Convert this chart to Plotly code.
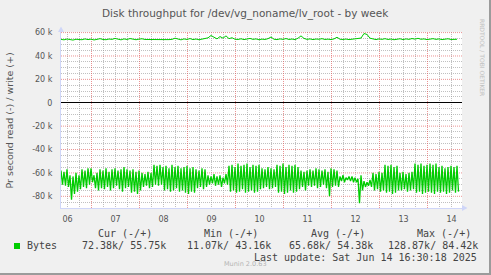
import plotly.graph_objects as go

# ---------------- data ----------------
start_day = 6.364583   # Jun 6 ~08:45
end_day = 14.71875     # Jun 14 ~17:15
step_days = 1.5 / 24   # sample spacing (1.5 h)

# read (negative side), upper and lower swing of each sample pair, in k
read_hi = [-58, -59, -57, -62, -63, -60, -62, -57, -58, -56, -56, -62, -60,
           -57, -58, -56, -59, -57, -56, -58, -57, -55, -57,
           -58, -57, -59, -58,
           -60, -61, -59, -60,
           -53, -54, -53,
           -55, -54, -56, -53, -55, -54, -56,
           -55, -54, -56, -55,
           -57, -58, -56, -57,
           -62, -63, -61, -63, -62, -64, -61,
           -54, -53, -55, -52, -54, -53, -52, -55, -53, -54, -53,
           -56, -57, -55, -56, -57,
           -53, -54, -52, -55, -53, -54, -53, -55,
           -58, -59, -58,
           -57, -58, -56, -57, -58, -57, -59, -56, -57, -58,
           -63, -62, -64, -63, -63, -64,
           -65, -62,
           -67, -68, -66,
           -60, -61, -59, -60,
           -53, -54, -53, -55, -54,
           -60, -59, -61, -60, -59,
           -52, -53, -52, -54, -53, -52, -53, -52,
           -55, -54, -56, -55, -54, -55, -54]
read_lo = [-70, -71, -72, -83, -78, -76, -74, -72, -73, -70, -68, -73, -75,
           -73, -74, -72, -75, -73, -71, -74, -76, -73, -72,
           -77, -76, -78, -75,
           -72, -71, -73, -72,
           -70, -71, -70,
           -75, -74, -76, -75, -73, -76, -75,
           -77, -78, -76, -77,
           -73, -72, -74, -72,
           -70, -69, -71, -70, -72, -69, -70,
           -76, -75, -77, -76, -74, -77, -76, -75, -77, -76, -74,
           -73, -72, -74, -73, -72,
           -77, -76, -78, -77, -75, -77, -76, -74,
           -72, -75, -71,
           -72, -71, -73, -72, -70, -73, -80, -72, -71, -72,
           -67, -68, -66, -67, -68, -68,
           -86, -75,
           -72, -71, -72,
           -75, -74, -76, -75,
           -77, -76, -78, -77, -75,
           -75, -74, -76, -75, -74,
           -77, -76, -78, -77, -76, -77, -78, -76,
           -77, -76, -78, -77, -75, -77, -76]

# write (positive side), in k
write_vals = [54.2, 53.8, 54.5, 54.0, 53.6, 54.3, 54.1, 53.9, 54.6, 54.0, 54.4, 53.7, 54.2,
              54.8, 54.1, 53.9, 54.5, 54.2, 55.0, 54.3, 53.8, 54.6, 54.1, 54.9, 54.2, 53.9,
              54.4, 54.7, 54.1,
              54.0, 54.0, 54.1, 54.0, 54.0, 54.1, 54.0, 54.0, 54.2,
              55.2,
              54.3, 53.8, 54.6, 54.1, 54.9, 54.0, 54.5, 53.9, 54.4, 54.8,
              55.5, 57.5, 55.8, 54.6, 56.6, 55.2, 57.2, 54.8, 55.6, 54.3,
              54.1, 54.7, 54.0, 54.5, 55.0, 54.2, 54.6, 53.9, 54.4, 54.1, 54.8,
              56.2,
              54.3, 54.0, 54.6, 54.2, 54.9, 54.1, 54.5, 54.0, 55.2,
              57.2, 55.0,
              54.2, 54.6, 54.0, 54.5, 54.3, 54.8, 54.1, 54.4, 54.0, 54.6,
              56.0,
              54.3, 54.1, 54.5, 54.0, 54.4, 54.2, 54.6, 55.3,
              59.2, 58.4, 55.2,
              54.4, 54.0, 54.6, 54.2, 54.8, 54.1, 54.5, 53.9, 54.3, 54.7, 54.0, 54.6, 54.2,
              54.9, 54.4, 55.1, 54.3, 54.6, 54.0, 54.5, 54.8, 54.2, 54.6, 54.0, 54.4, 54.7,
              54.1, 54.5, 54.3]

day_nums = [6, 7, 8, 9, 10, 11, 12, 13, 14]
day_labels = ["06", "07", "08", "09", "10", "11", "12", "13", "14"]
y_tick_k = [-80, -60, -40, -20, 0, 20, 40, 60]
y_tick_labels = ["-80 k", "-60 k", "-40 k", "-20 k", "0", "20 k", "40 k", "60 k"]

legend_headers = ["Cur (-/+)", "Min (-/+)", "Avg (-/+)", "Max (-/+)"]
legend_values = ["72.38k/ 55.75k", "11.07k/ 43.16k", "65.68k/ 54.38k", "128.87k/ 84.42k"]
series_name = "Bytes"
title_text = "Disk throughput for /dev/vg_noname/lv_root - by week"
y_title = "Pr second read (-) / write (+)"
last_update = "Last update: Sat Jun 14 16:30:18 2025"

# ---------------- build ----------------
W, H = 491, 275
L, R, T, B = 61, 462, 32, 208

def px(x):
    return (x - L) / (R - L)

def py(y):
    return (B - y) / (B - T)

X_RANGE = [start_day, end_day]
Y_RANGE = [-90000, 60500]

rx, ry = [], []
for i, (h, l) in enumerate(zip(read_hi, read_lo)):
    t = start_day + i * step_days
    rx += [t, t + step_days / 2]
    ry += [h * 1000, l * 1000]

wx = [start_day + i * step_days for i in range(len(write_vals))]
wy = [v * 1000 for v in write_vals]

# grid positions: major at midnight / every 20k, minor every 6 h / 5k (not on majors)
x_major = [d for d in day_nums if start_day < d < end_day]
x_minor = [d + q for d in day_nums for q in (0.25, 0.5, 0.75)]
x_label_pos = [d + 0.5 for d in day_nums]
y_major = [v * 1000 for v in y_tick_k]
y_minor = [(k + q) * 1000 for k in [-100] + y_tick_k for q in (5, 10, 15)]

# major grid as one path (drawn first, so it lies under the data)
gx, gy = [], []
for d in x_major:
    gx += [d, d, None]
    gy += [Y_RANGE[0], Y_RANGE[1], None]
for v in y_major:
    if v != 0:
        gx += [X_RANGE[0], X_RANGE[1], None]
        gy += [v, v, None]

GREEN = "#00CC00"
FONT = "DejaVu Sans"
MONO = "DejaVu Sans Mono"
TXT = "#555555"
MAJ = "rgba(225,90,90,0.65)"
MIN = "rgba(150,150,150,0.6)"
AXC = "#CFD6F8"
DASH = "1px,1px"

fig = go.Figure()
fig.add_trace(go.Scatter(x=gx, y=gy, mode="lines", line=dict(color=MAJ, width=1, dash=DASH),
                         hoverinfo="skip", showlegend=False, connectgaps=False))
fig.add_trace(go.Scatter(x=rx, y=ry, mode="lines", line=dict(color=GREEN, width=1.3),
                         hoverinfo="skip", showlegend=False))
fig.add_trace(go.Scatter(x=wx, y=wy, mode="lines", line=dict(color=GREEN, width=1),
                         hoverinfo="skip", showlegend=False))
# invisible anchors so the overlay (label / grid) axes are drawn
for xa, ya in (("x2", "y"), ("x", "y2")):
    fig.add_trace(go.Scatter(x=[start_day], y=[0], mode="markers", marker=dict(opacity=0),
                             xaxis=xa, yaxis=ya, hoverinfo="skip", showlegend=False))

noax = dict(showline=False, zeroline=False, ticks="", showticklabels=False)
fig.update_layout(
    width=W, height=H, autosize=False,
    margin=dict(l=L, r=W - R, t=T, b=H - B, pad=0),
    paper_bgcolor="#F0F0F0", plot_bgcolor="#FFFFFF",
    showlegend=False,
    # main x: minor 6-hour grid
    xaxis=dict(range=X_RANGE, tickmode="array", tickvals=x_minor,
               showticklabels=False, ticks="", showgrid=True, gridcolor=MIN, gridwidth=1,
               griddash=DASH, zeroline=False, showline=True, linecolor=AXC, linewidth=1),
    # day labels at noon
    xaxis2=dict(range=X_RANGE, overlaying="x", anchor="y", side="bottom",
                tickmode="array", tickvals=x_label_pos, ticktext=day_labels,
                showgrid=False, zeroline=False, showline=False, ticks="",
                tickfont=dict(family=FONT, size=8, color=TXT), ticklabelstandoff=5),
    # main y: labels + zero line
    yaxis=dict(range=Y_RANGE, tickmode="array", tickvals=y_major,
               ticktext=y_tick_labels, ticks="", showgrid=False,
               zeroline=True, zerolinecolor="#000000", zerolinewidth=1.2,
               showline=True, linecolor=AXC, linewidth=1,
               tickfont=dict(family=FONT, size=8, color=TXT), ticklabelstandoff=6),
    # minor 5k grid
    yaxis2=dict(range=Y_RANGE, overlaying="y", anchor="x", side="left",
                tickmode="array", tickvals=y_minor, showgrid=True, gridcolor=MIN,
                gridwidth=1, griddash=DASH, **noax),
)

ann = []
def A(text, x, y, xanchor="left", size=10, family=MONO, color="#444444", angle=0):
    ann.append(dict(text=text, x=px(x), y=py(y), xref="paper", yref="paper",
                    xanchor=xanchor, yanchor="middle", showarrow=False, textangle=angle,
                    borderpad=0, borderwidth=0,
                    font=dict(family=family, size=size, color=color)))

A("Munin 2.0.63", 245, 264, "center", 6.5, FONT, "#B4B4B4")
A(title_text, 245.5, 13, "center", 10.5, FONT, TXT)
A(y_title, 9.5, 121, "center", 9.5, FONT, TXT, -90)
A("RRDTOOL / TOBI OETIKER", 483, 57, "center", 6, FONT, "#C0C0C0", 90)
for txt, x in zip(legend_headers, [97.5, 204, 310.5, 417]):
    A(txt, x, 233.3)
A(series_name, 26.7, 245.7)
for txt, x in zip(legend_values, [82, 186.7, 289, 387.7]):
    A(txt, x, 245.7)
A(last_update, 477, 257.3, "right")
fig.update_layout(annotations=ann)

def tri(pts, color):
    path = "M " + " L ".join(f"{px(a)},{py(b)}" for a, b in pts) + " Z"
    return dict(type="path", path=path, xref="paper", yref="paper",
                fillcolor=color, line=dict(width=0), layer="above")

shapes = [
    dict(type="rect", xref="paper", yref="paper", x0=px(14), x1=px(20), y0=py(249), y1=py(243),
         fillcolor=GREEN, line=dict(width=0)),
    tri([(58, 32), (64, 32), (61, 26.5)], AXC),
    tri([(462, 205), (462, 211), (467.5, 208)], AXC),
    dict(type="line", xref="paper", yref="paper", x0=px(0), x1=px(491), y0=py(274), y1=py(274),
         line=dict(color="#9B9B9B", width=2)),
    dict(type="line", xref="paper", yref="paper", x0=px(490), x1=px(490), y0=py(0), y1=py(275),
         line=dict(color="#9B9B9B", width=2)),
]
fig.update_layout(shapes=shapes)

fig.write_html("out.html")
